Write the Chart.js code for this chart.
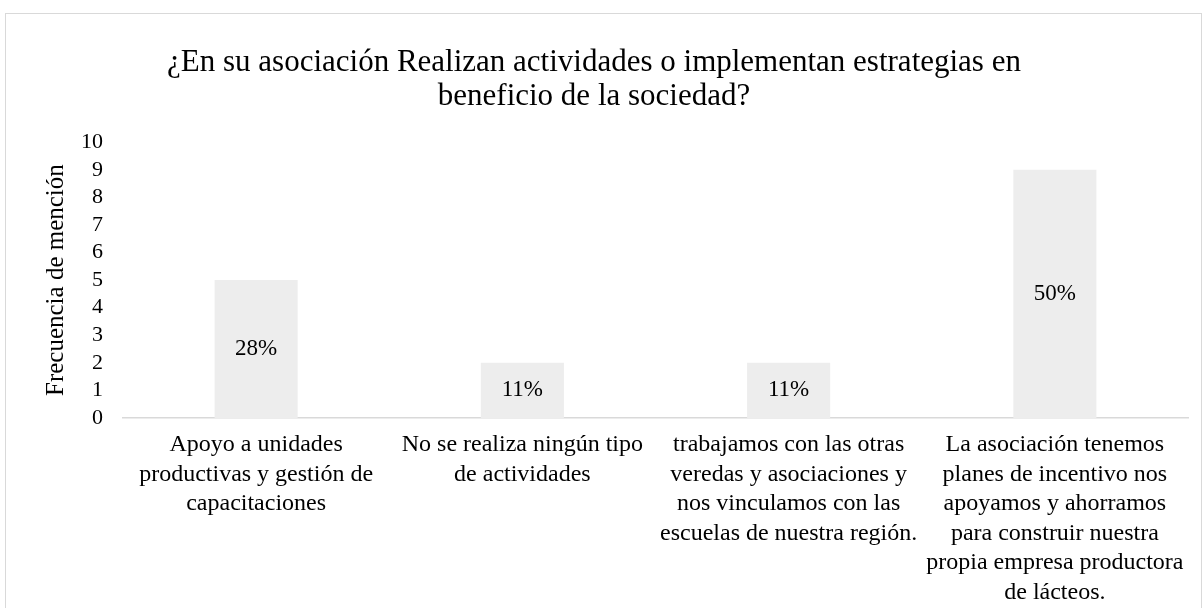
<!DOCTYPE html>
<html>
<head>
<meta charset="utf-8">
<script src="https://cdn.jsdelivr.net/npm/chart.js@4"></script>
<style>
    body { margin: 0; background: #fff; }
    #frame {
        position: absolute; left: 5px; top: 13px;
        width: 1197px; height: 700px;
        box-sizing: border-box; border: 1px solid #d9d9d9;
    }
    #chart { position: absolute; left: 0; top: 0; }
</style>
</head>
<body>
<div id="frame"></div>
<canvas id="chart" width="1202" height="608"></canvas>
<script>
// Chart data
const titleLines = ['¿En su asociación Realizan actividades o implementan estrategias en', 'beneficio de la sociedad?'];
const categories = [
    ['Apoyo a unidades', 'productivas y gestión de', 'capacitaciones'],
    ['No se realiza ningún tipo', 'de actividades'],
    ['trabajamos con las otras', 'veredas y asociaciones y', 'nos vinculamos con las', 'escuelas de nuestra región.'],
    ['La asociación tenemos', 'planes de incentivo nos', 'apoyamos y ahorramos', 'para construir nuestra', 'propia empresa productora', 'de lácteos.']
];
const frequencies = [5, 2, 2, 9];
const percentLabels = ['28%', '11%', '11%', '50%'];
const yTicks = [0, 1, 2, 3, 4, 5, 6, 7, 8, 9, 10];

const serif = "'Liberation Serif', 'Times New Roman', serif";

// Percent labels centred inside each bar
const barLabels = {
    id: 'barLabels',
    afterDatasetsDraw(chart) {
        const ctx = chart.ctx;
        const meta = chart.getDatasetMeta(0);
        ctx.save();
        ctx.font = '23px ' + serif;
        ctx.fillStyle = '#000';
        ctx.textAlign = 'center';
        ctx.textBaseline = 'middle';
        meta.data.forEach((bar, i) => {
            ctx.fillText(percentLabels[i], bar.x, (bar.y + bar.base) / 2);
        });
        ctx.restore();
    }
};

new Chart(document.getElementById('chart'), {
    type: 'bar',
    data: {
        labels: categories,
        datasets: [{
            label: 'Frecuencia de mención',
            data: frequencies,
            backgroundColor: '#ededed',
            borderWidth: 0,
            categoryPercentage: 1,
            barPercentage: 0.312
        }]
    },
    options: {
        responsive: false,
        animation: false,
        layout: { padding: { left: 0, right: 14, top: 0, bottom: 0 } },
        plugins: {
            legend: { display: false },
            tooltip: { enabled: false },
            title: {
                display: true,
                text: titleLines,
                color: '#000',
                font: { family: serif, size: 31, weight: 'normal', lineHeight: 1.1 },
                padding: { top: 46, bottom: 28 }
            }
        },
        scales: {
            x: {
                grid: { display: false, drawTicks: false },
                border: { display: true, color: '#d9d9d9', width: 1.5 },
                ticks: {
                    color: '#000',
                    font: { family: serif, size: 24, lineHeight: 1.23 },
                    padding: 12,
                    maxRotation: 0,
                    minRotation: 0,
                    autoSkip: false
                },
                afterFit(scale) { scale.height = 190; }
            },
            y: {
                min: 0,
                max: 10,
                grid: { display: false, drawTicks: false },
                border: { display: false },
                afterBuildTicks(scale) { scale.ticks = yTicks.map(v => ({ value: v })); },
                ticks: {
                    color: '#000',
                    font: { family: serif, size: 22 },
                    padding: 20,
                    autoSkip: false,
                    stepSize: 1
                },
                title: {
                    display: true,
                    text: 'Frecuencia de mención',
                    color: '#000',
                    font: { family: serif, size: 25, lineHeight: 1.2 },
                    padding: { top: 41, bottom: 0 }
                },
                afterFit(scale) { scale.width = 123; }
            }
        }
    },
    plugins: [barLabels]
});
</script>
</body>
</html>
